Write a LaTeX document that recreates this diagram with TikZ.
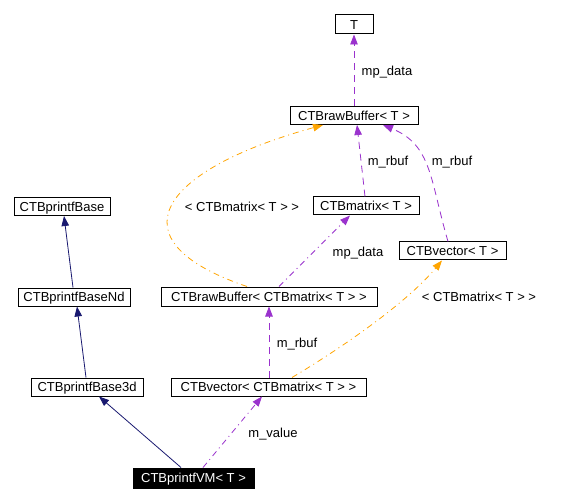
\documentclass[tikz,border=0pt]{standalone}
\usepackage{fontspec}
\setmainfont{Liberation Sans}
\usetikzlibrary{arrows.meta}
\definecolor{purp}{HTML}{9A32CD}
\definecolor{orng}{HTML}{FFA500}
\definecolor{navyb}{HTML}{191970}
\begin{document}
\begin{tikzpicture}[x=1pt,y=-1pt,
  font=\fontsize{13}{15}\selectfont,
  box/.style={draw=black,line width=1pt,fill=white,inner sep=0pt,minimum height=18pt,text=black,text height=9.3pt,text depth=0pt},
  lbl/.style={inner sep=0pt,text=black,text height=9.3pt,text depth=0pt},
  tip/.style={-{Triangle[length=10pt,width=7.5pt]}},
  usedash/.style={tip,draw=purp,line width=0.8pt,dash pattern=on 7pt off 5pt},
  usedot/.style={tip,draw=purp,line width=0.8pt,dash pattern=on 6pt off 4pt on 1pt off 4pt},
  tmpl/.style={tip,draw=orng,line width=0.8pt,dash pattern=on 6pt off 4pt on 1pt off 4pt},
  inh/.style={tip,draw=navyb,line width=0.8pt}]
\useasboundingbox[fill=white] (0,0) rectangle (572,502);
\node[box,minimum width=38pt,minimum height=19pt] (T) at (354,24.5) {T};
\node[box,minimum width=128pt] (RBT) at (354,115.5) {CTBrawBuffer< T >};
\node[box,minimum width=106pt] (MT) at (366,206) {CTBmatrix< T >};
\node[box,minimum width=107pt] (VT) at (452.5,251) {CTBvector< T >};
\node[box,minimum width=96pt] (PB) at (62,206.5) {CTBprintfBase};
\node[box,minimum width=112pt] (PBN) at (74,297) {CTBprintfBaseNd};
\node[box,minimum width=112pt] (PB3) at (87,387) {CTBprintfBase3d};
\node[box,minimum width=216pt,minimum height=19pt] (RBM) at (269,296.5) {CTBrawBuffer< CTBmatrix< T > >};
\node[box,minimum width=195pt] (VCM) at (268.5,387) {CTBvector< CTBmatrix< T > >};
\node[box,fill=black,text=white,minimum width=121pt,minimum height=20pt] (VM) at (193.5,478) {CTBprintfVM< T >};
% edges
\draw[usedash] (RBT.north) -- (T.south);
\draw[usedash] ([xshift=-1pt]MT.north) -- ([xshift=3pt]RBT.south);
\draw[usedash] ([xshift=-4.5pt]VT.north) .. controls (430,180) and (432,145) .. ([xshift=29pt]RBT.south);
\draw[tmpl] ([xshift=-22pt]RBM.north) .. controls (110,240) and (160,170) .. ([xshift=-31pt]RBT.south);
\draw[usedot] ([xshift=10pt]RBM.north) -- ([xshift=-16pt]MT.south);
\draw[usedash] ([xshift=0.5pt]VCM.north) -- (RBM.south);
\draw[tmpl] ([xshift=23.5pt]VCM.north) .. controls (335,352) and (405,305) .. ([xshift=-10.5pt]VT.south);
\draw[usedot] ([xshift=9.5pt]VM.north) -- ([xshift=-6.5pt]VCM.south);
\draw[inh] ([xshift=-12.5pt]VM.north) -- ([xshift=12pt]PB3.south);
\draw[inh] ([xshift=-1pt]PB3.north) -- ([xshift=3pt]PBN.south);
\draw[inh] ([xshift=-1pt]PBN.north) -- ([xshift=2pt]PB.south);
% labels
\node[lbl] (l1) at (387,71) {mp\_data};
\node[lbl] (l2) at (388,161) {m\_rbuf};
\node[lbl] (l3) at (452,161) {m\_rbuf};
\node[lbl] (l4) at (242,207) {< CTBmatrix< T > >};
\node[lbl] (l5) at (358,252) {mp\_data};
\node[lbl] (l6) at (297,343) {m\_rbuf};
\node[lbl] (l7) at (479,297) {< CTBmatrix< T > >};
\node[lbl] (l8) at (273,433) {m\_value};
\end{tikzpicture}
\end{document}
